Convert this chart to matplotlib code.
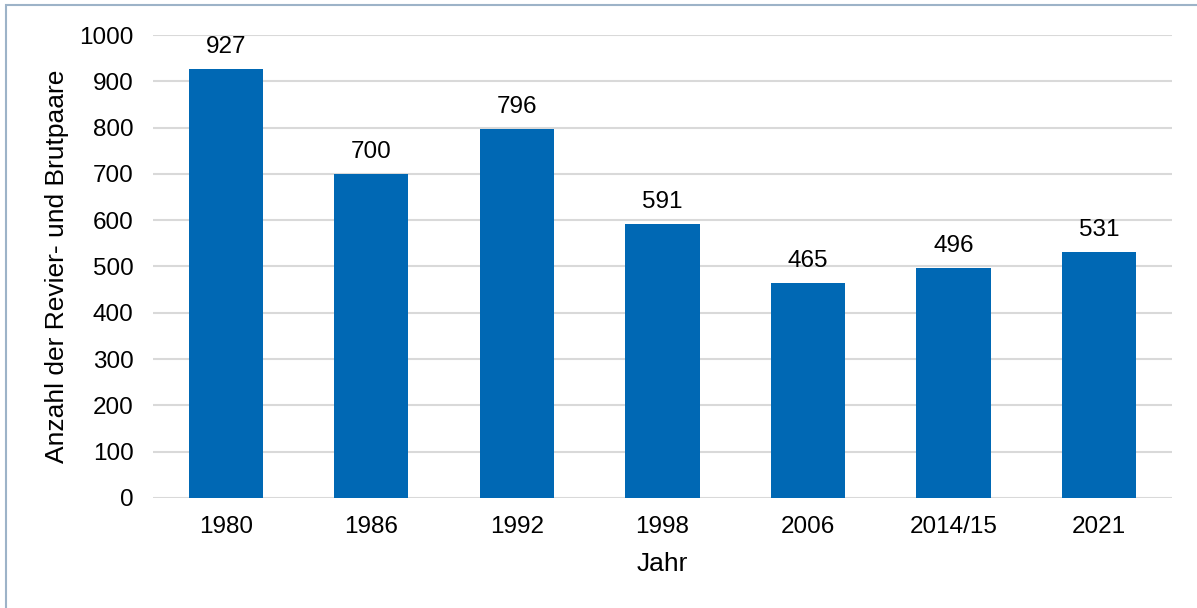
import matplotlib.pyplot as plt
from matplotlib.patches import Rectangle

jahre = ['1980', '1986', '1992', '1998', '2006', '2014/15', '2021']
paare = [927, 700, 796, 591, 465, 496, 531]

plt.rcParams['font.family'] = ['Liberation Sans', 'DejaVu Sans']

fig = plt.figure(figsize=(11.97, 6.08), dpi=100)
ax = fig.add_axes([0.1278, 0.181, 0.979 - 0.1278, 0.9424 - 0.181])

bars = ax.bar(jahre, paare, width=0.51, color='#0068b4', zorder=3)
for b, v in zip(bars, paare):
    ax.annotate(str(v), (b.get_x() + b.get_width() / 2, v), xytext=(0, 8),
                textcoords='offset points', ha='center', va='bottom', fontsize=17.5)

ax.set_ylim(0, 1000)
ax.set_xlim(-0.5, len(jahre) - 0.5)
ax.set_yticks(range(0, 1001, 100))
ax.grid(axis='y', color='#d9d9d9', linewidth=1.5, zorder=0)
for s in ax.spines.values():
    s.set_visible(False)
ax.tick_params(length=0, labelsize=17.5)
ax.tick_params(axis='y', pad=14)
ax.tick_params(axis='x', pad=13)
ax.set_xlabel('Jahr', fontsize=19, labelpad=10)
ax.set_ylabel('Anzahl der Revier- und Brutpaare', fontsize=19, labelpad=7)

fig.patches.append(Rectangle((6 / 1197, -0.1), 1.2, 1 - 5 / 608 + 0.1,
                             transform=fig.transFigure, fill=False,
                             edgecolor='#9db3c8', linewidth=1.5))

fig.savefig('out.png', dpi=100)
